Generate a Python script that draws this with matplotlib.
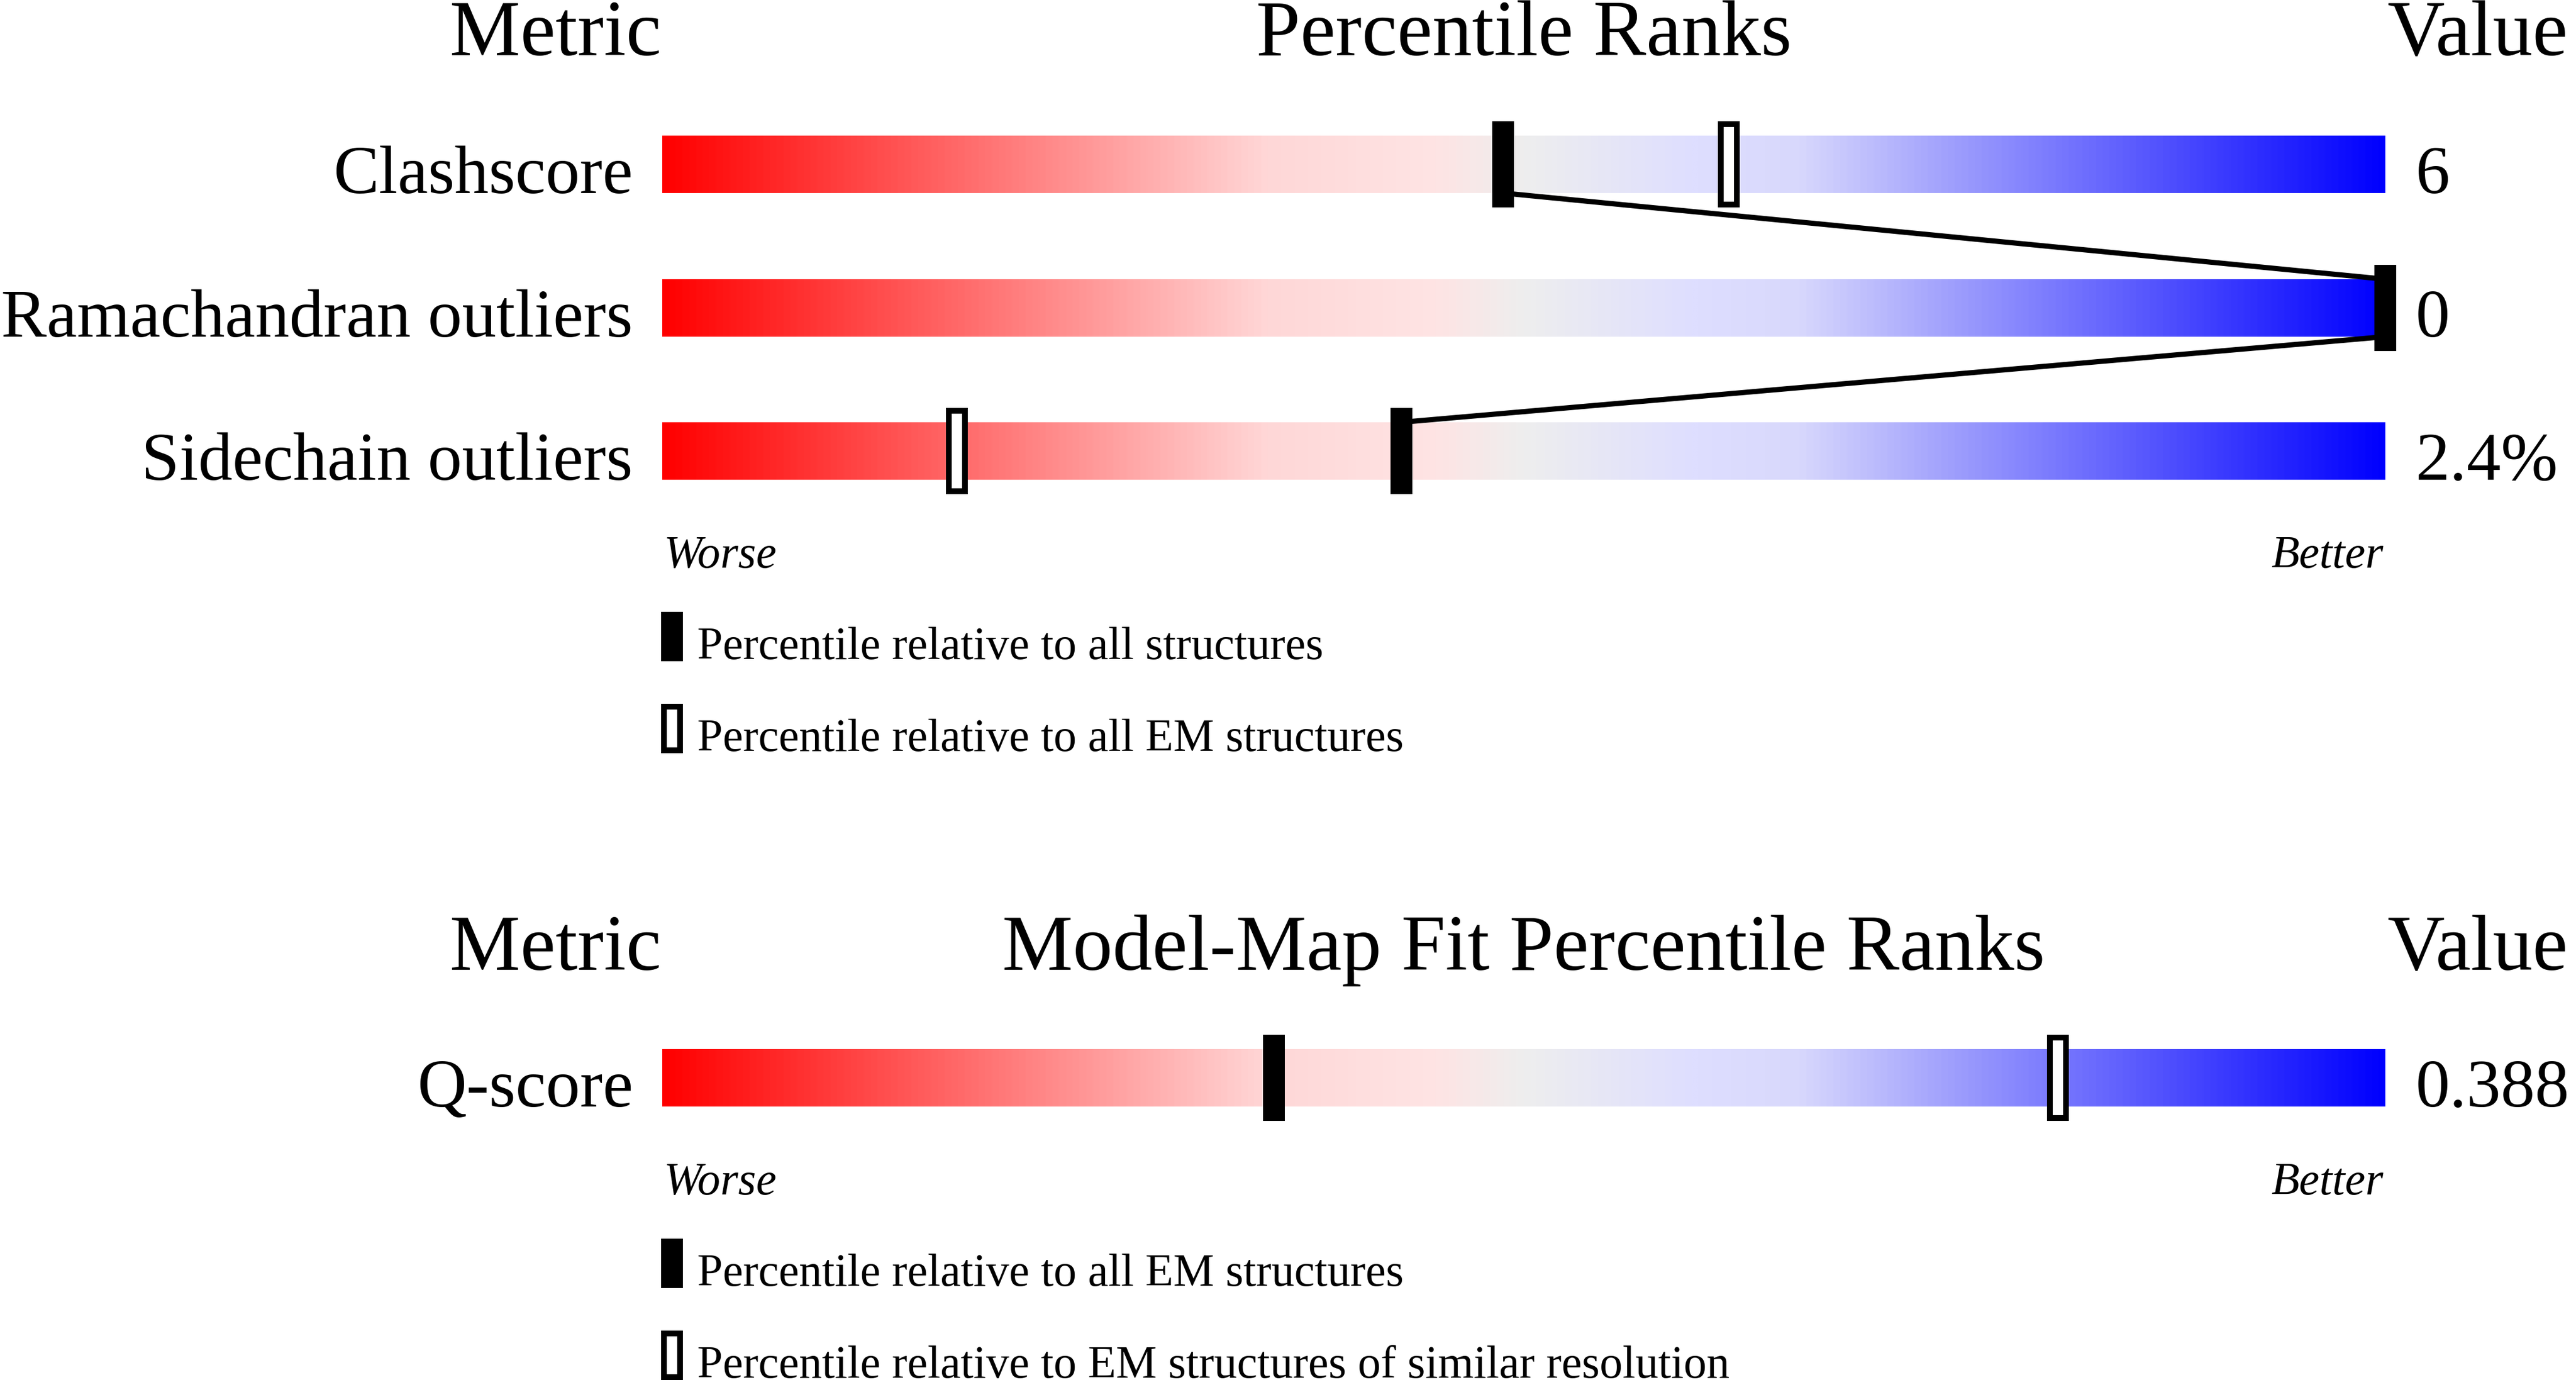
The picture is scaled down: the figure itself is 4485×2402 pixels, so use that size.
import matplotlib
matplotlib.use("Agg")
import matplotlib.pyplot as plt
import numpy as np
from matplotlib.colors import LinearSegmentedColormap
from matplotlib.patches import Rectangle

# ---------------- data ----------------
metrics_top = ["Clashscore", "Ramachandran outliers", "Sidechain outliers"]
values_top = ["6", "0", "2.4%"]
pct_all_top = [48.8, 100.0, 42.9]       # percentile relative to all structures (filled)
pct_em_top = [61.9, 100.0, 17.1]        # percentile relative to all EM structures (open)

metrics_bot = ["Q-score"]
values_bot = ["0.388"]
pct_all_bot = [35.5]                    # relative to all EM structures (filled)
pct_sim_bot = [81.0]                    # relative to EM structures of similar resolution (open)

header_top = ["Metric", "Percentile Ranks", "Value"]
header_bot = ["Metric", "Model-Map Fit Percentile Ranks", "Value"]
legend_top = ["Percentile relative to all structures", "Percentile relative to all EM structures"]
legend_bot = ["Percentile relative to all EM structures",
              "Percentile relative to EM structures of similar resolution"]

# ---------------- layout (pixels) ----------------
W, H = 4485, 2402
DPI = 100
BAR_L, BAR_W = 1153, 3000
BAR_H = 100
MK_EXT = 25
LABEL_X = 1102
VALUE_X = 4206
top_bar_tops = [236, 486, 735]
bot_bar_tops = [1826]

FONT = "Liberation Serif"
FS_HEAD = 99.5
FS_LAB = 85.7
FS_SMALL = 57.5

cmap = LinearSegmentedColormap.from_list("wwpdb", [
    (0.00, (1.0, 0.0, 0.0)),
    (0.35, (255/255, 215/255, 215/255)),
    (0.45, (254/255, 228/255, 228/255)),
    (0.50, (238/255, 238/255, 238/255)),
    (0.60, (222/255, 222/255, 255/255)),
    (0.66, (216/255, 216/255, 252/255)),
    (1.00, (0.0, 0.0, 1.0)),
])

fig = plt.figure(figsize=(W / DPI, H / DPI), dpi=DPI)
fig.patch.set_facecolor("white")

# text overlay in pixel coordinates
tax = fig.add_axes([0, 0, 1, 1])
tax.set_xlim(0, W)
tax.set_ylim(H, 0)
tax.axis("off")

# percentile axes: x in 0..100 spans the bars
pax = fig.add_axes([BAR_L / W, 0, BAR_W / W, 1])
pax.set_xlim(0, 100)
pax.set_ylim(H, 0)
pax.axis("off")

mk_w = 38 * 100 / BAR_W          # marker width in percentile units
open_w = 28 * 100 / BAR_W
lw_open = 10 * 72 / DPI
gradient = np.linspace(0, 1, 1024).reshape(1, -1)


def draw_panel(tops, metrics, values, pct_fill, pct_open, header, header_base,
               legend, connect):
    # headers
    tax.text(BAR_L - 2, header_base, header[0], ha="right", va="baseline",
             fontsize=FS_HEAD, family=FONT)
    tax.text(BAR_L + BAR_W / 2, header_base, header[1], ha="center", va="baseline",
             fontsize=FS_HEAD, family=FONT)
    tax.text(BAR_L + BAR_W + 3, header_base, header[2], ha="left", va="baseline",
             fontsize=FS_HEAD, family=FONT)
    for i, top in enumerate(tops):
        bottom = top + BAR_H
        pax.imshow(gradient, cmap=cmap, aspect="auto", interpolation="bilinear",
                   extent=(0, 100, bottom, top), zorder=1)
        tax.text(LABEL_X, bottom, metrics[i], ha="right", va="baseline",
                 fontsize=FS_LAB, family=FONT)
        tax.text(VALUE_X, bottom, values[i], ha="left", va="baseline",
                 fontsize=FS_LAB, family=FONT)
    # connecting lines between filled markers
    if connect:
        for i in range(len(tops) - 1):
            pax.plot([pct_fill[i], pct_fill[i + 1]],
                     [tops[i] + BAR_H, tops[i + 1]],
                     color="black", lw=6.5, solid_capstyle="butt", zorder=3,
                     clip_on=False)
    for i, top in enumerate(tops):
        pax.add_patch(Rectangle((pct_open[i] - open_w / 2, top - MK_EXT + 5),
                                open_w, BAR_H + 2 * MK_EXT - 10,
                                facecolor="white", edgecolor="black",
                                lw=lw_open, zorder=4, clip_on=False))
        pax.add_patch(Rectangle((pct_fill[i] - mk_w / 2, top - MK_EXT),
                                mk_w, BAR_H + 2 * MK_EXT,
                                facecolor="black", edgecolor="none", zorder=5,
                                clip_on=False))
    last_bottom = tops[-1] + BAR_H
    # Worse / Better
    wb = last_bottom + 153
    tax.text(BAR_L + 3, wb, "Worse", ha="left", va="baseline", fontsize=FS_SMALL,
             family=FONT, style="italic")
    tax.text(BAR_L + BAR_W - 3, wb, "Better", ha="right", va="baseline",
             fontsize=FS_SMALL, family=FONT, style="italic")
    # legend
    l1 = last_bottom + 230
    l2 = l1 + 160
    tax.add_patch(Rectangle((1151, l1), 38, 86, facecolor="black",
                            edgecolor="none"))
    tax.add_patch(Rectangle((1156, l2 + 5), 28, 76, facecolor="white",
                            edgecolor="black", lw=lw_open))
    tax.text(1214, l1 + 82, legend[0], ha="left", va="baseline",
             fontsize=FS_SMALL, family=FONT)
    tax.text(1214, l2 + 82, legend[1], ha="left", va="baseline",
             fontsize=FS_SMALL, family=FONT)


draw_panel(top_bar_tops, metrics_top, values_top, pct_all_top, pct_em_top,
           header_top, 96, legend_top, connect=True)
draw_panel(bot_bar_tops, metrics_bot, values_bot, pct_all_bot, pct_sim_bot,
           header_bot, 1688, legend_bot, connect=False)

pax.set_xlim(0, 100)
pax.set_ylim(H, 0)

fig.savefig("out.png", dpi=DPI, facecolor="white")
